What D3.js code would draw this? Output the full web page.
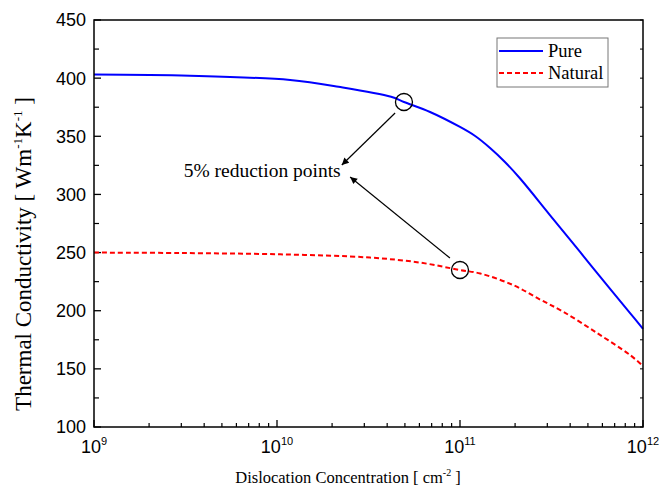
<!DOCTYPE html>
<html>
<head>
<meta charset="utf-8">
<script src="https://cdn.jsdelivr.net/npm/d3@7"></script>
<style>
  body { margin: 0; background: #fff; }
  svg text { fill: #000; }
</style>
</head>
<body>
<div id="chart"></div>
<script>
// values
const pureConc = [1e9, 3.34e9, 1.18e10, 2.17e10, 4.2e10, 4.94e10, 6.86e10, 1e11, 1.21e11, 1.46e11, 1.76e11, 2.13e11, 3.1e11, 4.53e11, 6.61e11, 8.5e11, 1e12];
const pureK = [403.1, 402.1, 398.4, 392.6, 384.0, 379.5, 370.9, 358.0, 350.2, 339.9, 327.9, 313.7, 282.3, 250.5, 218.7, 198.0, 184.3];

const naturalConc = [1e9, 2.95e9, 1.04e10, 3.22e10, 6.04e10, 1e11, 1.29e11, 1.95e11, 2.74e11, 3.66e11, 5.61e11, 8.5e11, 1e12];
const naturalK = [250.0, 249.6, 248.5, 245.7, 241.4, 235.0, 232.0, 222.1, 209.6, 199.2, 180.8, 161.9, 152.4];

// 5% reduction points
const markConc = [4.94e10, 1e11];
const markK = [379.5, 235.0];

const xTicks = [1e9, 1e10, 1e11, 1e12];
const xTickExp = ['9', '10', '11', '12'];
const yTicks = [100, 150, 200, 250, 300, 350, 400, 450];

const svg = d3.select('#chart')
    .append('svg')
    .attr('width', 659)
    .attr('height', 489);

const margin = { top: 20, right: 16, bottom: 62, left: 94 };
const width = +svg.attr('width') - margin.left - margin.right;
const height = +svg.attr('height') - margin.top - margin.bottom;

const g = svg.append('g')
    .attr('transform', 'translate(' + margin.left + ',' + margin.top + ')');

const x = d3.scaleLog().domain([1e9, 1e12]).range([0, width]);
const y = d3.scaleLinear().domain([100, 450]).range([height, 0]);

// minor ticks
const xMinor = [];
for (let e = 9; e < 12; e++) {
    for (let m = 2; m <= 9; m++) xMinor.push(m * Math.pow(10, e));
}
const yMinor = d3.range(125, 450, 50);

// bottom axis
const xAxis = g.append('g')
    .attr('transform', 'translate(0,' + height + ')');
xAxis.selectAll('.maj').data(xTicks).enter().append('line')
    .attr('x1', d => x(d)).attr('x2', d => x(d))
    .attr('y1', 0).attr('y2', -7)
    .attr('stroke', '#000').attr('stroke-width', 1.3);
xAxis.selectAll('.min').data(xMinor).enter().append('line')
    .attr('x1', d => x(d)).attr('x2', d => x(d))
    .attr('y1', 0).attr('y2', -4)
    .attr('stroke', '#000').attr('stroke-width', 1.2);
const xl = xAxis.selectAll('.lab').data(xTicks).enter().append('text')
    .attr('x', d => x(d))
    .attr('y', 26)
    .attr('text-anchor', 'middle')
    .style('font-family', '"Liberation Sans", Arial, sans-serif')
    .style('font-size', '18px');
xl.append('tspan').text('10');
xl.append('tspan').attr('dy', -8).style('font-size', '11px').text((d, i) => xTickExp[i]);

// left axis
const yAxis = g.append('g');
yAxis.selectAll('.maj').data(yTicks).enter().append('line')
    .attr('x1', 0).attr('x2', 7)
    .attr('y1', d => y(d)).attr('y2', d => y(d))
    .attr('stroke', '#000').attr('stroke-width', 1.3);
yAxis.selectAll('.min').data(yMinor).enter().append('line')
    .attr('x1', 0).attr('x2', 5)
    .attr('y1', d => y(d)).attr('y2', d => y(d))
    .attr('stroke', '#000').attr('stroke-width', 1.2);
yAxis.selectAll('.lab').data(yTicks).enter().append('text')
    .attr('x', -8)
    .attr('y', d => y(d))
    .attr('dy', '0.36em')
    .attr('text-anchor', 'end')
    .style('font-family', '"Liberation Sans", Arial, sans-serif')
    .style('font-size', '18px')
    .text(d => d);

// right axis small ticks
g.selectAll('.rt').data(yTicks.concat(yMinor)).enter().append('line')
    .attr('x1', width).attr('x2', width - 3)
    .attr('y1', d => y(d)).attr('y2', d => y(d))
    .attr('stroke', '#000').attr('stroke-width', 1);

// curves
const line = d3.line()
    .x(d => x(d[0]))
    .y(d => y(d[1]))
    .curve(d3.curveCatmullRom.alpha(0.5));

g.append('path')
    .datum(naturalConc.map((c, i) => [c, naturalK[i]]))
    .attr('d', line)
    .attr('fill', 'none')
    .attr('stroke', '#ff0000')
    .attr('stroke-width', 2)
    .attr('stroke-dasharray', '5,3');

g.append('path')
    .datum(pureConc.map((c, i) => [c, pureK[i]]))
    .attr('d', line)
    .attr('fill', 'none')
    .attr('stroke', '#0000ff')
    .attr('stroke-width', 2);

// frame
g.append('rect')
    .attr('width', width).attr('height', height)
    .attr('fill', 'none')
    .attr('stroke', '#000')
    .attr('stroke-width', 1.5);

// annotation
g.selectAll('.mark').data(markConc).enter().append('circle')
    .attr('cx', d => x(d))
    .attr('cy', (d, i) => y(markK[i]))
    .attr('r', 8.5)
    .attr('fill', 'none')
    .attr('stroke', '#000')
    .attr('stroke-width', 1.3);

svg.append('defs').append('marker')
    .attr('id', 'arrow')
    .attr('viewBox', '0 0 10 10')
    .attr('refX', 10).attr('refY', 5)
    .attr('markerWidth', 10).attr('markerHeight', 7)
    .attr('markerUnits', 'userSpaceOnUse')
    .attr('orient', 'auto')
    .append('path')
    .attr('d', 'M0,0L10,5L0,10z')
    .attr('fill', '#000');

const arrows = [
    { from: [4.42e10, 370], to: [2.26e10, 325.3] },
    { from: [8.81e10, 245.3], to: [2.51e10, 315] }
];
g.selectAll('.arrow').data(arrows).enter().append('line')
    .attr('x1', d => x(d.from[0])).attr('y1', d => y(d.from[1]))
    .attr('x2', d => x(d.to[0])).attr('y2', d => y(d.to[1]))
    .attr('stroke', '#000')
    .attr('stroke-width', 1.2)
    .attr('marker-end', 'url(#arrow)');

g.append('text')
    .attr('x', x(8.3e9))
    .attr('y', y(315))
    .attr('text-anchor', 'middle')
    .style('font-family', '"Liberation Serif", "Times New Roman", serif')
    .style('font-size', '19.5px')
    .text('5% reduction points');

// legend
const legend = svg.append('g').attr('transform', 'translate(497,38)');
legend.append('rect')
    .attr('width', 111).attr('height', 49)
    .attr('fill', '#fff')
    .attr('stroke', '#777')
    .attr('stroke-width', 1);
const legendItems = [
    { name: 'Pure', color: '#0000ff', dash: null },
    { name: 'Natural', color: '#ff0000', dash: '5,3' }
];
legendItems.forEach((d, i) => {
    legend.append('line')
        .attr('x1', 2).attr('x2', 46)
        .attr('y1', 13 + i * 22).attr('y2', 13 + i * 22)
        .attr('stroke', d.color)
        .attr('stroke-width', 2)
        .attr('stroke-dasharray', d.dash);
    legend.append('text')
        .attr('x', 51)
        .attr('y', 19 + i * 22)
        .style('font-family', '"Liberation Serif", "Times New Roman", serif')
        .style('font-size', '18.5px')
        .text(d.name);
});

// axis titles
const xt = svg.append('text')
    .attr('x', 348)
    .attr('y', 483)
    .attr('text-anchor', 'middle')
    .style('font-family', '"Liberation Serif", "Times New Roman", serif')
    .style('font-size', '16.5px');
xt.append('tspan').text('Dislocation Concentration [ cm');
xt.append('tspan').attr('dy', -7).style('font-size', '10px').text('-2');
xt.append('tspan').attr('dy', 7).text(' ]');

const yt = svg.append('text')
    .attr('transform', 'translate(31,254) rotate(-90)')
    .attr('text-anchor', 'middle')
    .style('font-family', '"Liberation Serif", "Times New Roman", serif')
    .style('font-size', '23px');
yt.append('tspan').text('Thermal Conductivity [ Wm');
yt.append('tspan').attr('dy', -9).style('font-size', '13px').text('-1');
yt.append('tspan').attr('dy', 9).text('K');
yt.append('tspan').attr('dy', -9).style('font-size', '13px').text('-1');
yt.append('tspan').attr('dy', 9).text(' ]');
</script>
</body>
</html>
